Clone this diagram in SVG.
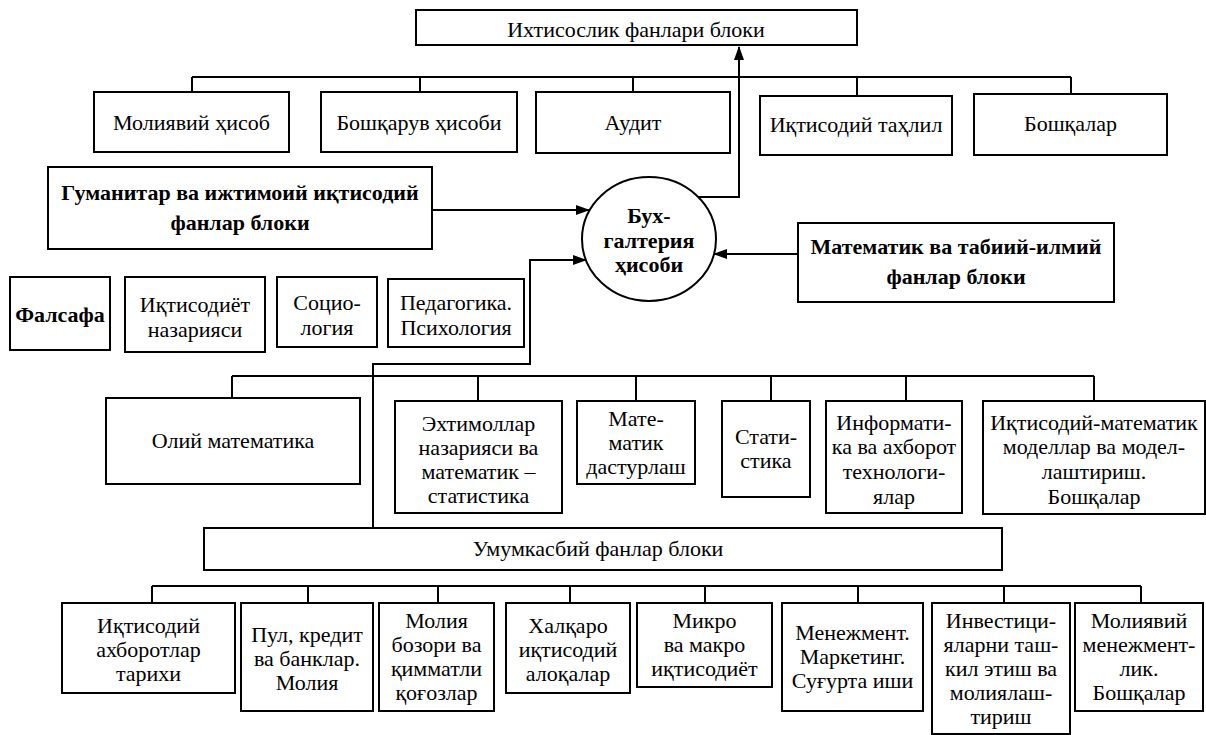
<svg xmlns="http://www.w3.org/2000/svg" width="1206" height="735" viewBox="0 0 1206 735">
<defs>
<style>
.box{fill:#fff;stroke:#000;stroke-width:2}
.t{font-family:"Liberation Serif","Times New Roman",serif;font-size:22px;text-anchor:middle;fill:#000}
.b{font-weight:bold}
.c{fill:none;stroke:#000;stroke-width:2}
</style>
<marker id="ah" markerWidth="14" markerHeight="10" refX="13" refY="5" orient="auto" markerUnits="userSpaceOnUse"><path d="M0,0 L14,5 L0,10 z" fill="#000"/></marker>
</defs>
<rect width="1206" height="735" fill="#fff"/>
<g id="connectors" class="c">
<path d="M192,77 H1071 M192,77 V92 M420,77 V92 M633,77 V92 M857,77 V96 M1071,77 V94"/>
<path d="M698,197 H739 V47" marker-end="url(#ah)"/>
<path d="M432,210 H589" marker-end="url(#ah)"/>
<path d="M798,254 H714" marker-end="url(#ah)"/>
<path d="M373,528 V364 H530 V260 H586" marker-end="url(#ah)"/>
<path d="M232,376 H1094 M232,376 V398 M478,376 V401 M636,376 V401 M771,376 V401 M906,376 V401 M1094,376 V401"/>
<path d="M152,586 H1141 M152,586 V603 M308,586 V603 M438,586 V603 M570,586 V603 M705,586 V603 M858,586 V603 M1004,586 V603 M1141,586 V603"/>
</g>
<g id="n-top"><rect class="box" x="416" y="10" width="441" height="35"/><text class="t" x="636" y="37">Ихтисослик фанлари блоки</text></g>
<g id="n-moliyaviy"><rect class="box" x="94" y="92" width="195" height="60"/><text class="t" x="191.5" y="130">Молиявий ҳисоб</text></g>
<g id="n-boshqaruv"><rect class="box" x="321" y="92" width="196" height="60"/><text class="t" x="419" y="130">Бошқарув ҳисоби</text></g>
<g id="n-audit"><rect class="box" x="536" y="92" width="194" height="61"/><text class="t" x="633" y="130">Аудит</text></g>
<g id="n-tahlil"><rect class="box" x="760" y="96" width="192" height="59"/><text class="t" x="856" y="132">Иқтисодий таҳлил</text></g>
<g id="n-boshqalar1"><rect class="box" x="974" y="94" width="193" height="61"/><text class="t" x="1070.5" y="131">Бошқалар</text></g>
<g id="n-gumanitar"><rect class="box" x="48" y="167" width="384" height="82"/><text class="t b" x="240" y="200">Гуманитар ва ижтимоий иқтисодий</text><text class="t b" x="240" y="230">фанлар блоки</text></g>
<g id="n-buxgalteriya"><ellipse class="box" cx="649" cy="239" rx="67" ry="62"/><text class="t b" x="649" y="223">Бух-</text><text class="t b" x="649" y="248">галтерия</text><text class="t b" x="649" y="272">ҳисоби</text></g>
<g id="n-matematik"><rect class="box" x="798" y="223" width="316" height="79"/><text class="t b" x="956" y="254">Математик ва табиий-илмий</text><text class="t b" x="956" y="284">фанлар блоки</text></g>
<g id="n-falsafa"><rect class="box" x="10" y="277" width="100" height="73"/><text class="t b" x="60" y="322">Фалсафа</text></g>
<g id="n-iqtisodiyot"><rect class="box" x="125" y="277" width="140" height="75"/><text class="t" x="195" y="312">Иқтисодиёт</text><text class="t" x="195" y="337">назарияси</text></g>
<g id="n-sotsiologiya"><rect class="box" x="277" y="277" width="100" height="70"/><text class="t" x="327" y="310">Социо-</text><text class="t" x="327" y="335">логия</text></g>
<g id="n-pedagogika"><rect class="box" x="388" y="279" width="136" height="68"/><text class="t" x="456" y="310">Педагогика.</text><text class="t" x="456" y="335">Психология</text></g>
<g id="n-oliy"><rect class="box" x="106" y="398" width="254" height="86"/><text class="t" x="233" y="448">Олий математика</text></g>
<g id="n-ehtimollar"><rect class="box" x="395" y="401" width="167" height="112"/><text class="t" x="478.5" y="431">Эхтимоллар</text><text class="t" x="478.5" y="455">назарияси ва</text><text class="t" x="478.5" y="479">математик –</text><text class="t" x="478.5" y="503">статистика</text></g>
<g id="n-dasturlash"><rect class="box" x="577" y="401" width="118" height="83"/><text class="t" x="636" y="426">Мате-</text><text class="t" x="636" y="450">матик</text><text class="t" x="636" y="474">дастурлаш</text></g>
<g id="n-statistika"><rect class="box" x="722" y="401" width="88" height="96"/><text class="t" x="766" y="444">Стати-</text><text class="t" x="766" y="468">стика</text></g>
<g id="n-informatika"><rect class="box" x="826" y="401" width="136" height="112"/><text class="t" x="894" y="430">Информати-</text><text class="t" x="894" y="454">ка ва ахборот</text><text class="t" x="894" y="479">технологи-</text><text class="t" x="894" y="504">ялар</text></g>
<g id="n-iqtmat"><rect class="box" x="983" y="401" width="222" height="113"/><text class="t" x="1094" y="430">Иқтисодий-математик</text><text class="t" x="1094" y="454">моделлар ва модел-</text><text class="t" x="1094" y="479">лаштириш.</text><text class="t" x="1094" y="504">Бошқалар</text></g>
<g id="n-umumkasbiy"><rect class="box" x="204" y="528" width="798" height="42"/><text class="t" x="598" y="556">Умумкасбий фанлар блоки</text></g>
<g id="n-axborot"><rect class="box" x="62" y="603" width="173" height="90"/><text class="t" x="148.5" y="633">Иқтисодий</text><text class="t" x="148.5" y="657">ахборотлар</text><text class="t" x="148.5" y="681">тарихи</text></g>
<g id="n-pul"><rect class="box" x="241" y="603" width="132" height="108"/><text class="t" x="307" y="642">Пул, кредит</text><text class="t" x="307" y="666">ва банклар.</text><text class="t" x="307" y="690">Молия</text></g>
<g id="n-bozor"><rect class="box" x="379" y="603" width="115" height="108"/><text class="t" x="436.5" y="628">Молия</text><text class="t" x="436.5" y="652">бозори ва</text><text class="t" x="436.5" y="676">қимматли</text><text class="t" x="436.5" y="700">қоғозлар</text></g>
<g id="n-xalqaro"><rect class="box" x="506" y="603" width="124" height="90"/><text class="t" x="568" y="633">Халқаро</text><text class="t" x="568" y="657">иқтисодий</text><text class="t" x="568" y="681">алоқалар</text></g>
<g id="n-mikro"><rect class="box" x="637" y="603" width="135" height="84"/><text class="t" x="704.5" y="628">Микро</text><text class="t" x="704.5" y="652">ва макро</text><text class="t" x="704.5" y="676">иқтисодиёт</text></g>
<g id="n-menejment"><rect class="box" x="782" y="603" width="141" height="108"/><text class="t" x="852.5" y="640">Менежмент.</text><text class="t" x="852.5" y="664">Маркетинг.</text><text class="t" x="852.5" y="688">Суғурта иши</text></g>
<g id="n-investitsiya"><rect class="box" x="932" y="603" width="138" height="131"/><text class="t" x="1001" y="628">Инвестици-</text><text class="t" x="1001" y="652">яларни таш-</text><text class="t" x="1001" y="676">кил этиш ва</text><text class="t" x="1001" y="700">молиялаш-</text><text class="t" x="1001" y="724">тириш</text></g>
<g id="n-molmenejment"><rect class="box" x="1075" y="603" width="128" height="108"/><text class="t" x="1139" y="628">Молиявий</text><text class="t" x="1139" y="652">менежмент-</text><text class="t" x="1139" y="676">лик.</text><text class="t" x="1139" y="700">Бошқалар</text></g>
</svg>
